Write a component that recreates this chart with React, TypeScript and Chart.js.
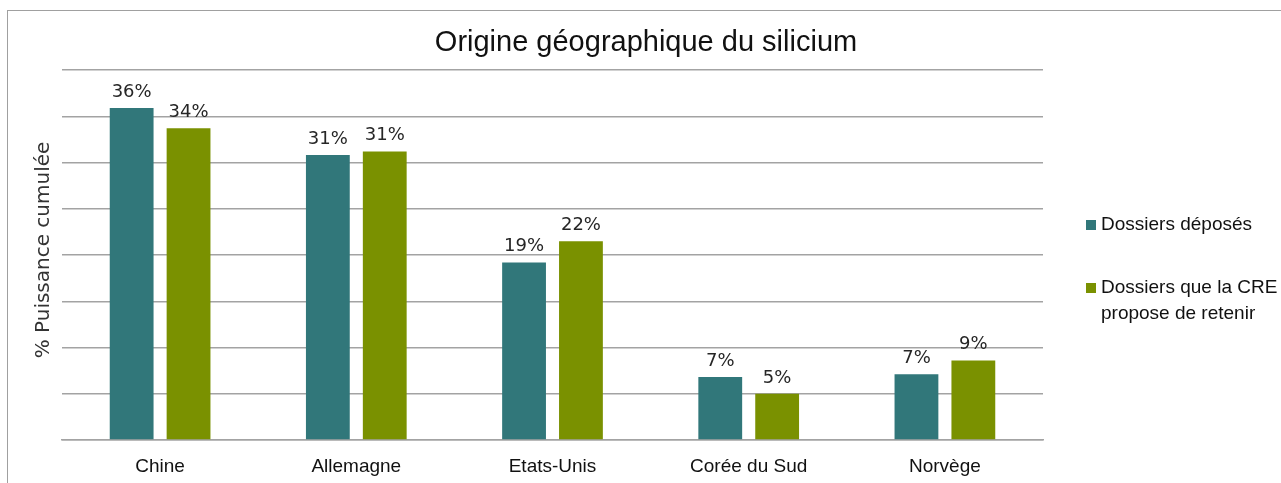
import React, { useEffect, useRef } from "react";
import { Chart, registerables } from "chart.js";

Chart.register(...registerables);

const categories = ["Chine", "Allemagne", "Etats-Unis", "Corée du Sud", "Norvège"];
const deposes = [35.9, 30.8, 19.2, 6.8, 7.1];
const retenus = [33.7, 31.2, 21.5, 5.0, 8.6];
const seriesNames = ["Dossiers déposés", "Dossiers que la CRE propose de retenir"];
const legendLines = [["Dossiers déposés"], ["Dossiers que la CRE", "propose de retenir"]];
const chartTitle = "Origine géographique du silicium";
const yTitle = "% Puissance cumulée";

const TEAL = "#31777a";
const GREEN = "#7a9100";
const GRID = "#a3a3a3";
const NARROW = "'Liberation Sans', Arial, sans-serif";
const WIDE = "'DejaVu Sans', Verdana, sans-serif";

const overlay = {
  id: "overlay",
  afterDatasetsDraw(chart: any) {
    const ctx = chart.ctx;
    ctx.save();
    // data labels
    ctx.font = `18px ${WIDE}`;
    ctx.fillStyle = "#262626";
    ctx.textAlign = "center";
    ctx.textBaseline = "alphabetic";
    chart.data.datasets.forEach((ds: any, i: number) => {
      const meta = chart.getDatasetMeta(i);
      meta.data.forEach((bar: any, j: number) => {
        ctx.fillText(Math.round(ds.data[j]) + "%", bar.x, bar.y - 11);
      });
    });
    // title
    ctx.font = `29px ${NARROW}`;
    ctx.fillStyle = "#111";
    ctx.textBaseline = "middle";
    ctx.fillText(chartTitle, 646, 43);
    // y axis title
    ctx.save();
    ctx.translate(44, 250);
    ctx.rotate(-Math.PI / 2);
    ctx.font = `20px ${WIDE}`;
    ctx.fillStyle = "#333";
    ctx.textAlign = "center";
    ctx.fillText(yTitle, 0, 0);
    ctx.restore();
    // legend
    const colors = [TEAL, GREEN];
    const ys = [225, 288];
    ctx.font = `19px ${NARROW}`;
    ctx.textAlign = "left";
    legendLines.forEach((lines, i) => {
      ctx.fillStyle = colors[i];
      ctx.fillRect(1086, ys[i] - 5, 10, 10);
      ctx.fillStyle = "#111";
      lines.forEach((t, k) => ctx.fillText(t, 1101, ys[i] + k * 26));
    });
    ctx.restore();
  },
};

export default function App() {
  const ref = useRef<HTMLCanvasElement>(null);
  useEffect(() => {
    document.body.style.margin = "0";
    const chart = new Chart(ref.current!, {
      type: "bar",
      data: {
        labels: categories,
        datasets: [
          { label: seriesNames[0], data: deposes, backgroundColor: TEAL, categoryPercentage: 0.58, barPercentage: 0.77 },
          { label: seriesNames[1], data: retenus, backgroundColor: GREEN, categoryPercentage: 0.58, barPercentage: 0.77 },
        ],
      },
      options: {
        animation: false,
        responsive: false,
        layout: { padding: { left: 0, right: 238, top: 70, bottom: 0 } },
        plugins: { legend: { display: false }, title: { display: false }, tooltip: { enabled: false } },
        scales: {
          x: {
            grid: { display: false, drawTicks: false },
            border: { display: true, color: GRID, width: 1.5 },
            ticks: { color: "#111", font: { family: NARROW, size: 19 }, padding: 15 },
            afterFit: (s: any) => { s.height = 43; },
          },
          y: {
            min: 0,
            max: 40,
            ticks: { display: false, stepSize: 5 },
            grid: { color: GRID, lineWidth: 1.5, drawTicks: false },
            border: { display: false },
            title: { display: false, text: yTitle },
            afterFit: (s: any) => { s.width = 62; },
          },
        },
      },
      plugins: [overlay],
    });
    return () => chart.destroy();
  }, []);
  return (
    <div style={{ position: "relative", width: 1281, height: 483, background: "#fff", overflow: "hidden" }}>
      <div style={{ position: "absolute", left: 7, top: 10, width: 1300, height: 500, borderTop: "1.5px solid #a0a0a0", borderLeft: "1.5px solid #a0a0a0" }} />
      <canvas ref={ref} width={1281} height={483} style={{ position: "absolute", left: 0, top: 0 }} />
    </div>
  );
}
